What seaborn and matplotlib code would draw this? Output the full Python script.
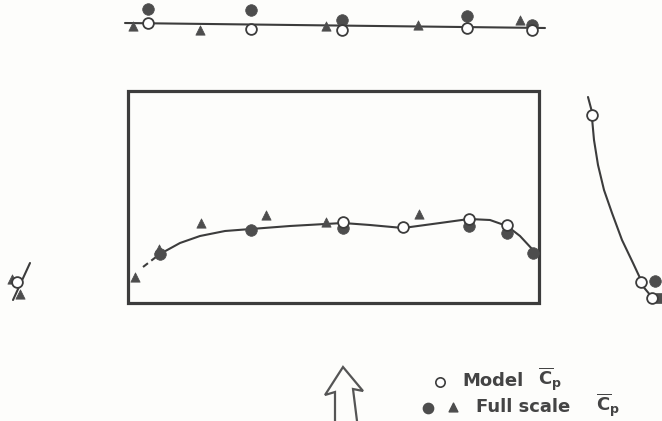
import matplotlib
matplotlib.use('Agg')
from matplotlib import pyplot as plt
from matplotlib.patches import Rectangle
import seaborn as sns

# positions (pixel coords of the 662x421 sheet)
# top face
top_x_circ = [148, 251, 342, 467, 532]
top_model_y = [23, 29, 30, 28, 30]
top_full_y = [9, 10, 20, 16, 25]
top_x_tri = [133, 200, 326, 418, 520]
top_tri_y = [26, 30, 26, 25, 20]
top_line_x = [125, 545]
top_line_y = [23, 28]

# leeward face (inside the box)
mid_model_x = [343, 403, 469, 507]
mid_model_y = [222, 227, 219, 225]
mid_full_x = [160, 251, 343, 469, 507, 533]
mid_full_y = [254, 230, 228, 226, 233, 253]
mid_tri_x = [135, 159, 201, 266, 326, 419]
mid_tri_y = [277, 249, 223, 215, 222, 214]
mid_curve_x = [156, 160, 180, 200, 225, 251, 290, 343, 370, 403, 440, 469, 490, 507, 520, 533, 538]
mid_curve_y = [257, 254, 243, 236, 231, 229, 226, 223, 225, 228, 223, 219, 220, 226, 236, 250, 255]
mid_dash_x = [143, 156]
mid_dash_y = [267, 257]

# right face
right_model_x = [592, 641, 652]
right_model_y = [115, 282, 298]
right_full_x = [655]
right_full_y = [281]
right_sq_x = [661]
right_sq_y = [298]
right_curve_x = [592, 594, 598, 604, 612, 622, 633, 640]
right_curve_y = [118, 140, 165, 190, 213, 240, 263, 278]

# left face
left_model_x = [17]
left_model_y = [282]
left_tri_x = [12, 20]
left_tri_y = [279, 294]

# wind arrow outline
arrow_x = [335, 335, 325, 343, 363, 353, 357]
arrow_y = [421, 392, 395, 367, 391, 389, 421]

ink = '#3c3c3c'
fill = '#4d4d4d'

sns.set_style('white')
fig = plt.figure(figsize=(6.62, 4.21), dpi=100)
fig.patch.set_facecolor('#fdfdfb')
ax = fig.add_axes([0, 0, 1, 1])
ax.set_facecolor('#fdfdfb')
ax.set_xlim(0, 662)
ax.set_ylim(421, 0)
ax.axis('off')

# building outline
ax.add_patch(Rectangle((128, 91), 411, 212, fill=False, ec=ink, lw=2.3, zorder=2))

# fitted curves
line_kw = dict(color=ink, lw=1.5, sort=False, estimator=None, legend=False, ax=ax)
sns.lineplot(x=top_line_x, y=top_line_y, **line_kw)
sns.lineplot(x=mid_curve_x, y=mid_curve_y, **line_kw)
ax.plot(mid_dash_x, mid_dash_y, color=ink, lw=1.5, ls=(0, (3, 2)))
sns.lineplot(x=right_curve_x, y=right_curve_y, **line_kw)
ax.plot([588, 592], [97, 112], color=ink, lw=1.5)
ax.plot([641, 651], [284, 296], color=ink, lw=1.5)
ax.plot([30, 13], [263, 300], color=ink, lw=1.5)

def full(x, y, marker='o', s=70):
    sns.scatterplot(x=x, y=y, marker=marker, s=s, color=fill, edgecolor=fill,
                    linewidth=0.5, ax=ax, zorder=3, legend=False)

def model(x, y):
    sns.scatterplot(x=x, y=y, marker='o', s=60, color='white', edgecolor=ink,
                    linewidth=1.3, ax=ax, zorder=4, legend=False)

full(top_x_tri, top_tri_y, '^', 45)
full(top_x_circ, top_full_y)
model(top_x_circ, top_model_y)

full(mid_tri_x, mid_tri_y, '^', 45)
full(mid_full_x, mid_full_y)
model(mid_model_x, mid_model_y)

full(right_full_x, right_full_y)
full(right_sq_x, right_sq_y, 's', 60)
model(right_model_x, right_model_y)

full(left_tri_x, left_tri_y, '^', 45)
model(left_model_x, left_model_y)

ax.plot(arrow_x, arrow_y, color='#555555', lw=1.6, solid_joinstyle='miter')

# legend
fkw = dict(fontsize=13, fontweight='bold', color='#444444', va='center', ha='left',
           family='DejaVu Sans')
ax.scatter([440], [382], s=45, facecolor='white', edgecolor=ink, lw=1.2)
ax.text(462, 381, 'Model', **fkw)
ax.text(538, 379, r'$\overline{\mathbf{C}}_\mathbf{p}$', **fkw)
ax.scatter([428], [408], s=55, color=fill)
ax.scatter([453], [407], s=40, marker='^', color=fill)
ax.text(476, 407, 'Full scale', **fkw)
ax.text(596, 405, r'$\overline{\mathbf{C}}_\mathbf{p}$', **fkw)

fig.savefig('out.png', dpi=100, facecolor=fig.get_facecolor())
